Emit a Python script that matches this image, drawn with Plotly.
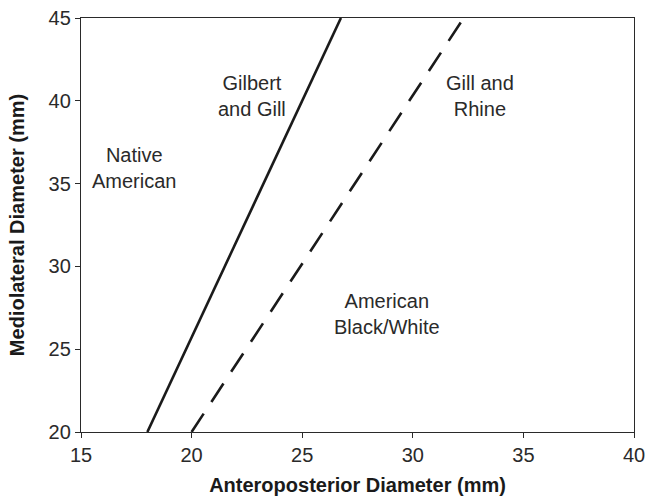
import plotly.graph_objects as go

# Data
gilbert_x = [18.0, 26.75]
gilbert_y = [20, 45]
rhine_x = [20.0, 32.3]
rhine_y = [20, 45]

labels = ["Native<br>American", "Gilbert<br>and Gill", "Gill and<br>Rhine", "American<br>Black/White"]
label_x = [17.4, 22.72, 33.04, 28.82]
label_y = [35.95, 40.26, 40.26, 27.1]

x_ticks = [15, 20, 25, 30, 35, 40]
y_ticks = [20, 25, 30, 35, 40, 45]

FONT = "Liberation Sans, Arial"
fig = go.Figure()
fig.add_trace(go.Scatter(x=gilbert_x, y=gilbert_y, mode="lines",
                         line=dict(color="#1a1a1a", width=2.6), showlegend=False))
fig.add_trace(go.Scatter(x=rhine_x, y=rhine_y, mode="lines",
                         line=dict(color="#1a1a1a", width=2.6, dash="22px,14px"), showlegend=False))

for t, x, y in zip(labels, label_x, label_y):
    fig.add_annotation(x=x, y=y, text=t, showarrow=False,
                       font=dict(family=FONT, size=20, color="#2a2a2a"),
                       align="center")

axis_common = dict(showgrid=False, zeroline=False, showline=True, linecolor="#2a2a2a",
                   linewidth=1.3, mirror=True, ticks="outside", ticklen=5, automargin=False,
                   tickcolor="#2a2a2a", tickfont=dict(family=FONT, size=20, color="#2a2a2a"))

fig.update_xaxes(range=[15, 40], tickvals=x_ticks,
                 title=dict(text="<b>Anteroposterior Diameter (mm)</b>", standoff=12,
                            font=dict(family=FONT, size=20, color="#1a1a1a")),
                 **axis_common)
fig.update_yaxes(range=[20, 45], tickvals=y_ticks,
                 title=dict(text="<b>Mediolateral Diameter (mm)</b>", standoff=18,
                            font=dict(family=FONT, size=20, color="#1a1a1a")),
                 **axis_common)

fig.update_layout(width=646, height=499, plot_bgcolor="white", paper_bgcolor="white",
                  margin=dict(l=81, r=12, t=18, b=67))

fig.write_html("out.html", config={"displayModeBar": False},
               post_script="document.body.style.margin='0';")
